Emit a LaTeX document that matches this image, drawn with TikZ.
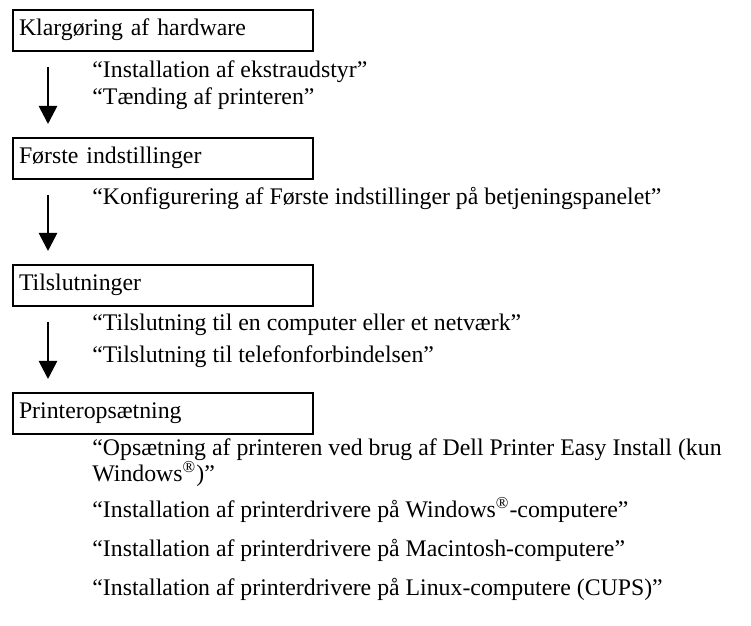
\documentclass[tikz,border=0pt]{standalone}
\usepackage{fontspec}
\setmainfont{Liberation Serif}
\usetikzlibrary{arrows.meta}

\begin{document}
\begin{tikzpicture}[x=0.5pt,y=-0.5pt,
    stage/.style={draw, line width=1pt, anchor=north west, minimum width=150pt,
      minimum height=20.5pt, text width=144pt, inner xsep=3pt, inner ysep=0pt,
      align=left, text height=0.75em, text depth=0.36em},
    item/.style={anchor=base west, inner sep=0pt, align=left},
    flow/.style={line width=1.35pt, -{Triangle[length=9pt,width=9pt]},
      shorten <=7.5pt, shorten >=6.5pt}]

        \def\arrx{18pt}
        \fontsize{11.9}{13}\selectfont

        \useasboundingbox (0,0) rectangle (751,626);

        \node [stage] (klar) at (12,9) {Klargøring af hardware};
        \node [stage] (forste) at (12,137) {Første indstillinger};
        \node [stage] (tilslut) at (12,264) {Tilslutninger};
        \node [stage] (printer) at (12,392) {Printeropsætning};

        \node [item] (ekstra) at (92,78) {“Installation af ekstraudstyr”};
        \node [item] (taend) at (92,105) {“Tænding af printeren”};

        \node [item] (konfig) at (92,205) {“Konfigurering af Første indstillinger på betjeningspanelet”};

        \node [item] (computer) at (92,330) {“Tilslutning til en computer eller et netværk”};
        \node [item] (telefon) at (92,363) {“Tilslutning til telefonforbindelsen”};

        % two lines: base is the last line
        \node [item] (easy) at (92,481) {“Opsætning af printeren ved brug af Dell Printer Easy Install (kun\\Windows\textsuperscript{\textregistered})”};
        \node [item] (windows) at (92,517) {“Installation af printerdrivere på Windows\textsuperscript{\textregistered}-computere”};
        \node [item] (mac) at (92,556) {“Installation af printerdrivere på Macintosh-computere”};
        \node [item] (linux) at (92,595) {“Installation af printerdrivere på Linux-computere (CUPS)”};

        \draw[flow] ([xshift=\arrx]klar.south west) -- ([xshift=\arrx]forste.north west);
        \draw[flow] ([xshift=\arrx]forste.south west) -- ([xshift=\arrx]tilslut.north west);
        \draw[flow] ([xshift=\arrx]tilslut.south west) -- ([xshift=\arrx]printer.north west);

      \end{tikzpicture}
\end{document}
